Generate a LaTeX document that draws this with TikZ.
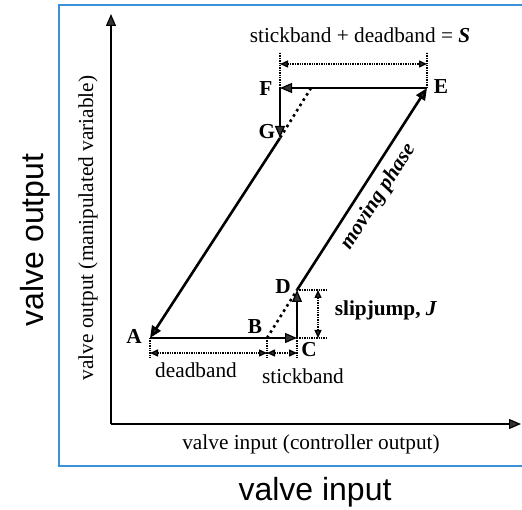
\documentclass[tikz,border=0pt]{standalone}
\usepackage{fontspec}
\setmainfont{Liberation Serif}
\setsansfont{Liberation Sans}
\usetikzlibrary{arrows.meta}
\definecolor{frameblue}{RGB}{59,145,215}
\newcommand{\txt}{\fontsize{21.3}{24}\selectfont}
\newcommand{\bigtxt}{\fontsize{32}{36}\selectfont\sffamily}

\begin{document}
\begin{tikzpicture}[x=1pt,y=1pt,
  tip/.style={-{Triangle[length=12pt,width=10pt,fill=black!80]}},
  dimtip/.style={{Triangle[length=8pt,width=7pt,fill=black!80]}-{Triangle[length=8pt,width=7pt,fill=black!80]}},
  thinline/.style={line width=1.2pt},
  thickline/.style={line width=2.6pt},
  dotline/.style={line width=2.6pt,dash pattern=on 2.6pt off 3.6pt},
  dimline/.style={line width=1.4pt,dash pattern=on 1.4pt off 1pt},
  pt/.style={font=\txt\bfseries,inner sep=0pt}]
\useasboundingbox (0,0) rectangle (522,509);
\draw[frameblue,line width=2pt] (524,504) -- (59,504) -- (59,43) -- (524,43);

% axes
\coordinate (O) at (111,85);
\coordinate (Ytop) at (111,495);
\coordinate (Xend) at (521,85);
\draw[thinline,tip] (O) -- (Ytop);
\draw[thinline,tip] (O) -- (Xend);

% corner points of the cycle
\coordinate (A) at (150,171);
\coordinate (B) at (267,171);
\coordinate (C) at (297,171);
\coordinate (D) at (297,219);
\coordinate (E) at (427,421);
\coordinate (F) at (280,421);
\coordinate (G) at (280,371);
\coordinate (Gtop) at (311,421);

\node[pt] (LA) at (134,173) {A};
\node[pt] (LB) at (255,182) {B};
\node[pt] (LC) at (309,159) {C};
\node[pt] (LD) at (283,222) {D};
\node[pt] (LE) at (441,422) {E};
\node[pt] (LF) at (266,420) {F};
\node[pt] (LG) at (267,377) {G};

\draw[thickline,tip] (G) -- (A);
\draw[thickline,tip] (D) -- (E)
  node[pos=0.51,sloped,below=7pt,inner sep=0pt,font=\txt\bfseries\itshape] (move) {moving phase};
\draw[thinline,tip] (A) -- (C);
\draw[thinline,tip] (C) -- (D);
\draw[thinline,tip] (E) -- (F);
\draw[thinline,tip] (F) -- (G);
\draw[dotline] (B) -- (D);
\draw[dotline] (Gtop) -- (G);

% dimension lines
\coordinate (Alow) at (150,151);
\coordinate (Blow) at (267,151);
\coordinate (Clow) at (297,151);
\coordinate (Adim) at (150,156);
\coordinate (Bdim) at (267,156);
\coordinate (Cdim) at (297,156);
\draw[dimline] (A) -- (Alow) (B) -- (Blow) (C) -- (Clow);
\draw[dimline,dimtip] (Adim) -- (Bdim);
\draw[dimline,dimtip] (Bdim) -- (Cdim);

\coordinate (Cright) at (326,171);
\coordinate (Dright) at (326,219);
\coordinate (Jbot) at (318,171);
\coordinate (Jtop) at (318,219);
\draw[dimline] (C) -- (Cright) (D) -- (Dright);
\draw[dimline,dimtip] (Jtop) -- (Jbot);

\coordinate (Fup) at (280,457);
\coordinate (Eup) at (427,457);
\coordinate (Fdim) at (280,445);
\coordinate (Edim) at (427,445);
\draw[dimline] (F) -- (Fup) (E) -- (Eup);
\draw[dimline,dimtip] (Fdim) -- (Edim);

% texts
\node[font=\txt] (dead) at (196,139) {deadband};
\node[font=\txt] (stick) at (303,133) {stickband};
\node[font=\txt\bfseries] (slip) at (386,199) {slipjump, \textit{J}};
\node[font=\txt] (sum) at (360,474) {stickband + deadband = \textbf{\textit{S}}};
\node[font=\txt] (xlab) at (311,65) {valve input (controller output)};
\node[font=\txt,rotate=90] (ylab) at (88,281) {valve output (manipulated variable)};
\node[font=\bigtxt] (xbig) at (315,17) {valve input};
\node[font=\bigtxt,rotate=90] (ybig) at (35,269) {valve output};
\end{tikzpicture}
\end{document}
